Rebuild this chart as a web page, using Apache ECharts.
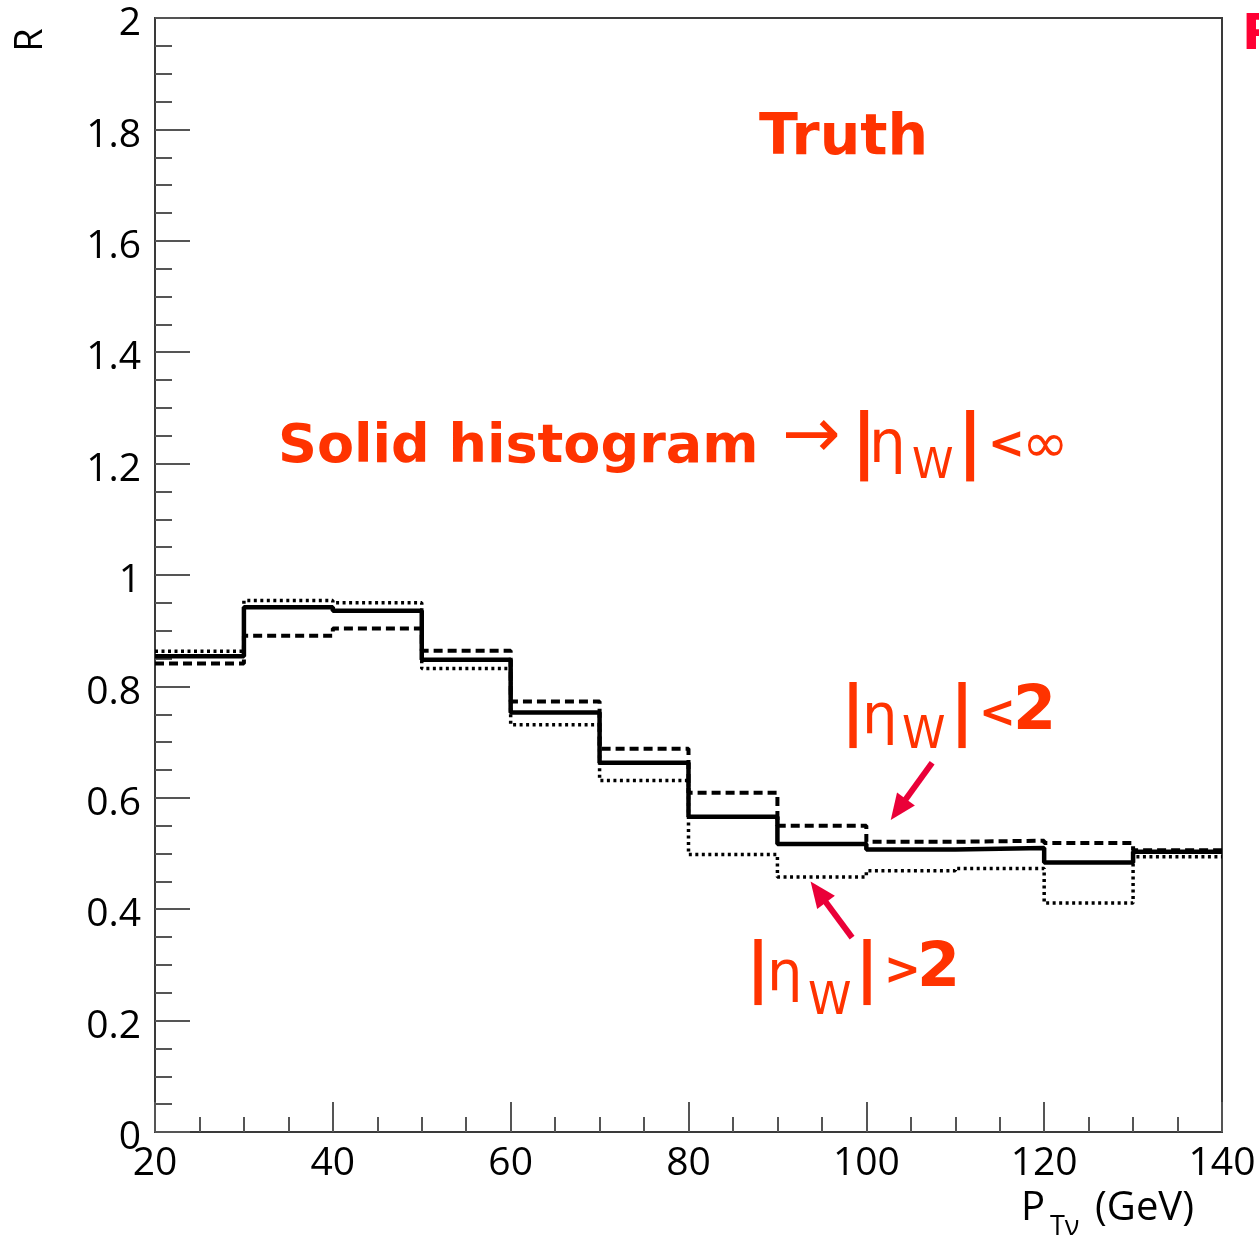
<!DOCTYPE html>
<html>
<head>
<meta charset="utf-8">
<script src="https://cdn.jsdelivr.net/npm/echarts@6/dist/echarts.min.js"></script>
<style>
html,body{margin:0;padding:0;background:#fff;}
#chart{width:1259px;height:1241px;}
</style>
</head>
<body>
<div id="chart"></div>
<script>
// ---- data ----
const binEdges = [20, 30, 40, 50, 60, 70, 80, 90, 100, 110, 120, 130, 140];
const solidR   = [0.854, 0.942, 0.936, 0.848, 0.753, 0.663, 0.566, 0.517, 0.507, 0.510, 0.484, 0.503];
const etaLt2R  = [0.841, 0.891, 0.904, 0.864, 0.773, 0.688, 0.609, 0.550, 0.521, 0.523, 0.519, 0.506];
const etaGt2R  = [0.863, 0.954, 0.950, 0.832, 0.731, 0.631, 0.498, 0.458, 0.469, 0.473, 0.411, 0.494];
const yTicks = [0, 0.2, 0.4, 0.6, 0.8, 1, 1.2, 1.4, 1.6, 1.8, 2];
const xTicks = [20, 40, 60, 80, 100, 120, 140];
// annotation arrows (data coordinates: [start, tip])
const arrowLt2 = [[107.4, 0.663], [103.6, 0.579]];
const arrowGt2 = [[98.4, 0.349], [94.6, 0.431]];

function stepData(vals) {
  return binEdges.map((x, i) => [x, vals[Math.min(i, vals.length - 1)]]);
}

const chart = echarts.init(document.getElementById('chart'), null, {renderer: 'canvas'});

const RED = '#ff3300';
const CRIMSON = '#ea0038';
const DV = '"DejaVu Sans", "Noto Sans", sans-serif';
const OS = '"Open Sans", "Noto Sans", sans-serif';

function t(x, baseline, str, size, weight, color, fam, k) {
  const f = fam || DV;
  const kk = (k === undefined) ? 0.35 : k;
  return {
    type: 'text', silent: true, z: 100,
    style: {
      text: str, x: x, y: baseline - kk * size,
      fill: color || RED,
      font: (weight || 'normal') + ' ' + size + 'px ' + f,
      align: 'left', verticalAlign: 'middle'
    }
  };
}

const graphics = [
  // Truth
  t(759, 159, 'Truth', 57, 'bold'),
  // Solid histogram ->|eta_W|<inf
  t(278, 467, 'Solid histogram', 54, 'bold'),
  t(782, 463, '\u2192', 70, 'normal'),
  t(851, 470, '|', 72, 'bold'),
  t(869, 467, '\u03B7', 58, 'normal'),
  t(912, 482, 'W', 42, 'normal'),
  t(957, 470, '|', 72, 'bold'),
  t(988, 462, '<', 44, 'bold'),
  t(1022, 467, '\u221E', 56, 'normal'),
  // |eta_W|<2
  t(841, 738, '|', 66, 'bold'),
  t(862, 738, '\u03B7', 56, 'normal'),
  t(902, 752, 'W', 44, 'normal'),
  t(950, 738, '|', 66, 'bold'),
  t(979, 731, '<', 44, 'bold'),
  t(1013, 735, '2', 62, 'bold'),
  // |eta_W|>2
  t(746, 995, '|', 66, 'bold'),
  t(767, 995, '\u03B7', 56, 'normal'),
  t(808, 1018, 'W', 44, 'normal'),
  t(855, 995, '|', 66, 'bold'),
  t(884, 988, '>', 44, 'bold'),
  t(917, 992, '2', 62, 'bold'),
  // top-right cut-off P
  t(1242, 54, 'P', 50, 'bold', '#ff0033'),
  // axis titles
  {
    type: 'text', silent: true, z: 100, x: 31, y: 40, rotation: Math.PI / 2,
    style: {text: 'R', x: 0, y: 0, fill: '#000', font: '38px ' + OS, align: 'center', verticalAlign: 'middle'}
  },
  t(1021, 1224, 'P', 40, 'normal', '#000', OS, 0.38),
  t(1050, 1238, 'T\u03BD', 27, 'normal', '#000', OS, 0.38),
  t(1095, 1224, '(GeV)', 40, 'normal', '#000', OS, 0.38)
];

const axisColor = '#3a3a3a';

const option = {
  animation: false,
  backgroundColor: '#fff',
  grid: {left: 155, right: 37, top: 18, bottom: 109, containLabel: false,
         show: true, borderColor: axisColor, borderWidth: 2, backgroundColor: 'transparent'},
  xAxis: {
    type: 'value', min: xTicks[0], max: xTicks[xTicks.length - 1], interval: 20,
    splitLine: {show: false},
    axisLine: {show: true, onZero: false, lineStyle: {color: axisColor, width: 2}},
    axisTick: {show: true, inside: true, length: 30, lineStyle: {color: '#555', width: 2}},
    minorTick: {show: true, splitNumber: 4, length: 15, lineStyle: {color: '#555', width: 2}},
    axisLabel: {show: true, margin: 12, color: '#000', fontSize: 39, fontFamily: OS,
                formatter: v => String(v)}
  },
  yAxis: {
    type: 'value', min: yTicks[0], max: yTicks[yTicks.length - 1], interval: 0.2,
    splitLine: {show: false},
    axisLine: {show: true, onZero: false, lineStyle: {color: axisColor, width: 2}},
    axisTick: {show: true, inside: true, length: 35, lineStyle: {color: '#555', width: 2}},
    minorTick: {show: true, splitNumber: 4, length: 17, lineStyle: {color: '#555', width: 2}},
    axisLabel: {show: true, margin: 14, color: '#000', fontSize: 39, fontFamily: OS,
                verticalAlign: 'top', lineHeight: 12,
                formatter: v => String(+(+v).toFixed(1))}
  },
  series: [
    {
      name: '|eta_W|<2', type: 'line', step: 'end', symbol: 'none', z: 3,
      data: stepData(etaLt2R),
      lineStyle: {color: '#000', width: 4, type: [9, 5]}
    },
    {
      name: '|eta_W|>2', type: 'line', step: 'end', symbol: 'none', z: 3,
      data: stepData(etaGt2R),
      lineStyle: {color: '#000', width: 3.5, type: [3, 3.5]}
    },
    {
      name: 'all', type: 'line', step: 'end', symbol: 'none', z: 4,
      data: stepData(solidR),
      lineStyle: {color: '#000', width: 4.5, type: 'solid'}
    },
    {
      name: 'arrows', type: 'line', data: [], silent: true, z: 10,
      markLine: {
        silent: true, animation: false,
        symbol: ['none', 'triangle'], symbolSize: [22, 26],
        label: {show: false},
        lineStyle: {color: CRIMSON, width: 6, type: 'solid'},
        emphasis: {disabled: true},
        data: [
          [{coord: arrowLt2[0]}, {coord: arrowLt2[1]}],
          [{coord: arrowGt2[0]}, {coord: arrowGt2[1]}]
        ]
      }
    }
  ],
  graphic: graphics
};

chart.setOption(option);
</script>
</body>
</html>
